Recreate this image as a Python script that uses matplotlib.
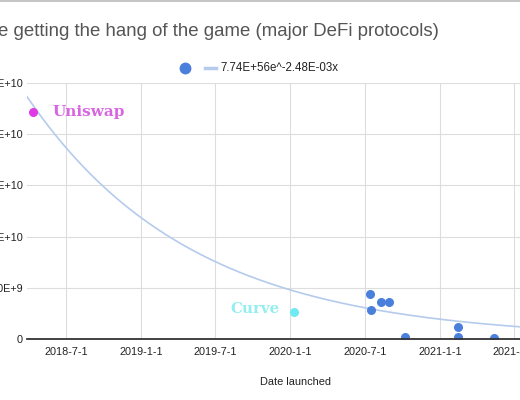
import numpy as np
import pandas as pd
import matplotlib
matplotlib.use("Agg")
import matplotlib.pyplot as plt
import matplotlib.dates as mdates
from matplotlib.lines import Line2D

plt.rcParams['font.family'] = ['Liberation Sans', 'DejaVu Sans']

# Data ---------------------------------------------------------------
uniswap_date = ["2018-04-12"]
uniswap_tvl = [2.22e10]

curve_date = ["2020-01-11"]
curve_tvl = [2.65e9]

other_dates = ["2020-07-15", "2020-07-17", "2020-08-11", "2020-08-29",
               "2020-10-08", "2021-02-13", "2021-02-13", "2021-05-13"]
other_tvl = [4.41e9, 2.84e9, 3.6e9, 3.6e9, 0.15e9, 1.15e9, 0.15e9, 0.12e9]

# trendline from the legend: 7.74E+56 * e^(-2.48E-03 * x), x = sheets serial day
trend_a = 7.74e56
trend_b = -2.48e-3
trend_label = "7.74E+56e^-2.48E-03x"

x_ticks = ["2018-07-01", "2019-01-01", "2019-07-01", "2020-01-01",
           "2020-07-01", "2021-01-01", "2021-07-01"]
x_tick_labels = ["2018-7-1", "2019-1-1", "2019-7-1", "2020-1-1",
                 "2020-7-1", "2021-1-1", "2021-7-1"]
y_ticks = [0, 5e9, 1e10, 1.5e10, 2e10, 2.5e10]
y_tick_labels = ["0", "5.00E+9", "1.00E+10", "1.50E+10", "2.00E+10", "2.50E+10"]

x_min, x_max = "2018-03-28", "2021-10-29"

# Plot ---------------------------------------------------------------
fig = plt.figure(figsize=(5.2, 4.0), dpi=100)
ax = fig.add_axes([27/520, 61/400, 536/520, 256/400])

def to_num(d):
    return mdates.date2num(pd.to_datetime(d))

# trendline across the whole axis
xs = np.linspace(to_num(x_min), to_num(x_max), 300)
serial = xs - mdates.date2num(pd.Timestamp("1899-12-30"))
ax.plot(xs, trend_a * np.exp(trend_b * serial), color="#b5cbed", lw=1.2, zorder=2)

ax.scatter([to_num(d) for d in other_dates], other_tvl, s=30, color="#4a7fdc", zorder=3)
ax.scatter([to_num(d) for d in uniswap_date], uniswap_tvl, s=30, color="#de3be4", zorder=3)
ax.scatter([to_num(d) for d in curve_date], curve_tvl, s=30, color="#6eeaf2", zorder=3)

ax.text(to_num(uniswap_date[0]) + 47, uniswap_tvl[0], "Uniswap", family="DejaVu Serif",
        fontweight="bold", fontsize=11, color="#d865e2", va="center", ha="left")
ax.text(to_num(curve_date[0]) - 35, 2.9e9, "Curve", family="DejaVu Serif",
        fontweight="bold", fontsize=10.8, color="#92efee", va="center", ha="right")

ax.set_xlim(to_num(x_min), to_num(x_max))
ax.set_ylim(0, 2.5e10)
ax.set_xticks([to_num(d) for d in x_ticks])
ax.set_xticklabels(x_tick_labels)
ax.set_yticks(y_ticks)
ax.set_yticklabels(y_tick_labels)
ax.tick_params(length=0, labelsize=7.8, colors="#222222", pad=3)
ax.tick_params(axis="x", pad=6)
ax.grid(True, color="#dddddd", lw=0.8)
ax.set_axisbelow(True)
for s in ["top", "right", "left"]:
    ax.spines[s].set_visible(False)
ax.spines["bottom"].set_color("#333333")
ax.spines["bottom"].set_linewidth(1.3)
ax.spines["bottom"].set_zorder(4)

ax.set_xlabel("Date launched", fontsize=7.9, color="#222222", labelpad=14)

# title (cut at the left edge in the reference)
fig.text(-0.004, 1 - 31/400, "e getting the hang of the game (major DeFi protocols)",
         fontsize=13.4, color="#555555", ha="left", va="center")

# legend
fig.add_artist(Line2D([185/520], [1 - 68/400], marker="o", markersize=7.5,
                      color="#4a7fdc", lw=0, transform=fig.transFigure))
fig.add_artist(Line2D([205/520, 216/520], [1 - 68/400, 1 - 68/400], color="#b5cbed",
                      lw=2.5, transform=fig.transFigure))
fig.text(220/520, 1 - 68/400, trend_label, fontsize=8.3, color="#222222", ha="left", va="center")

# top border line
fig.add_artist(Line2D([0, 1], [0.998, 0.998], color="#bbbbbb", lw=1.2, transform=fig.transFigure))

fig.savefig("out.png", dpi=100)
